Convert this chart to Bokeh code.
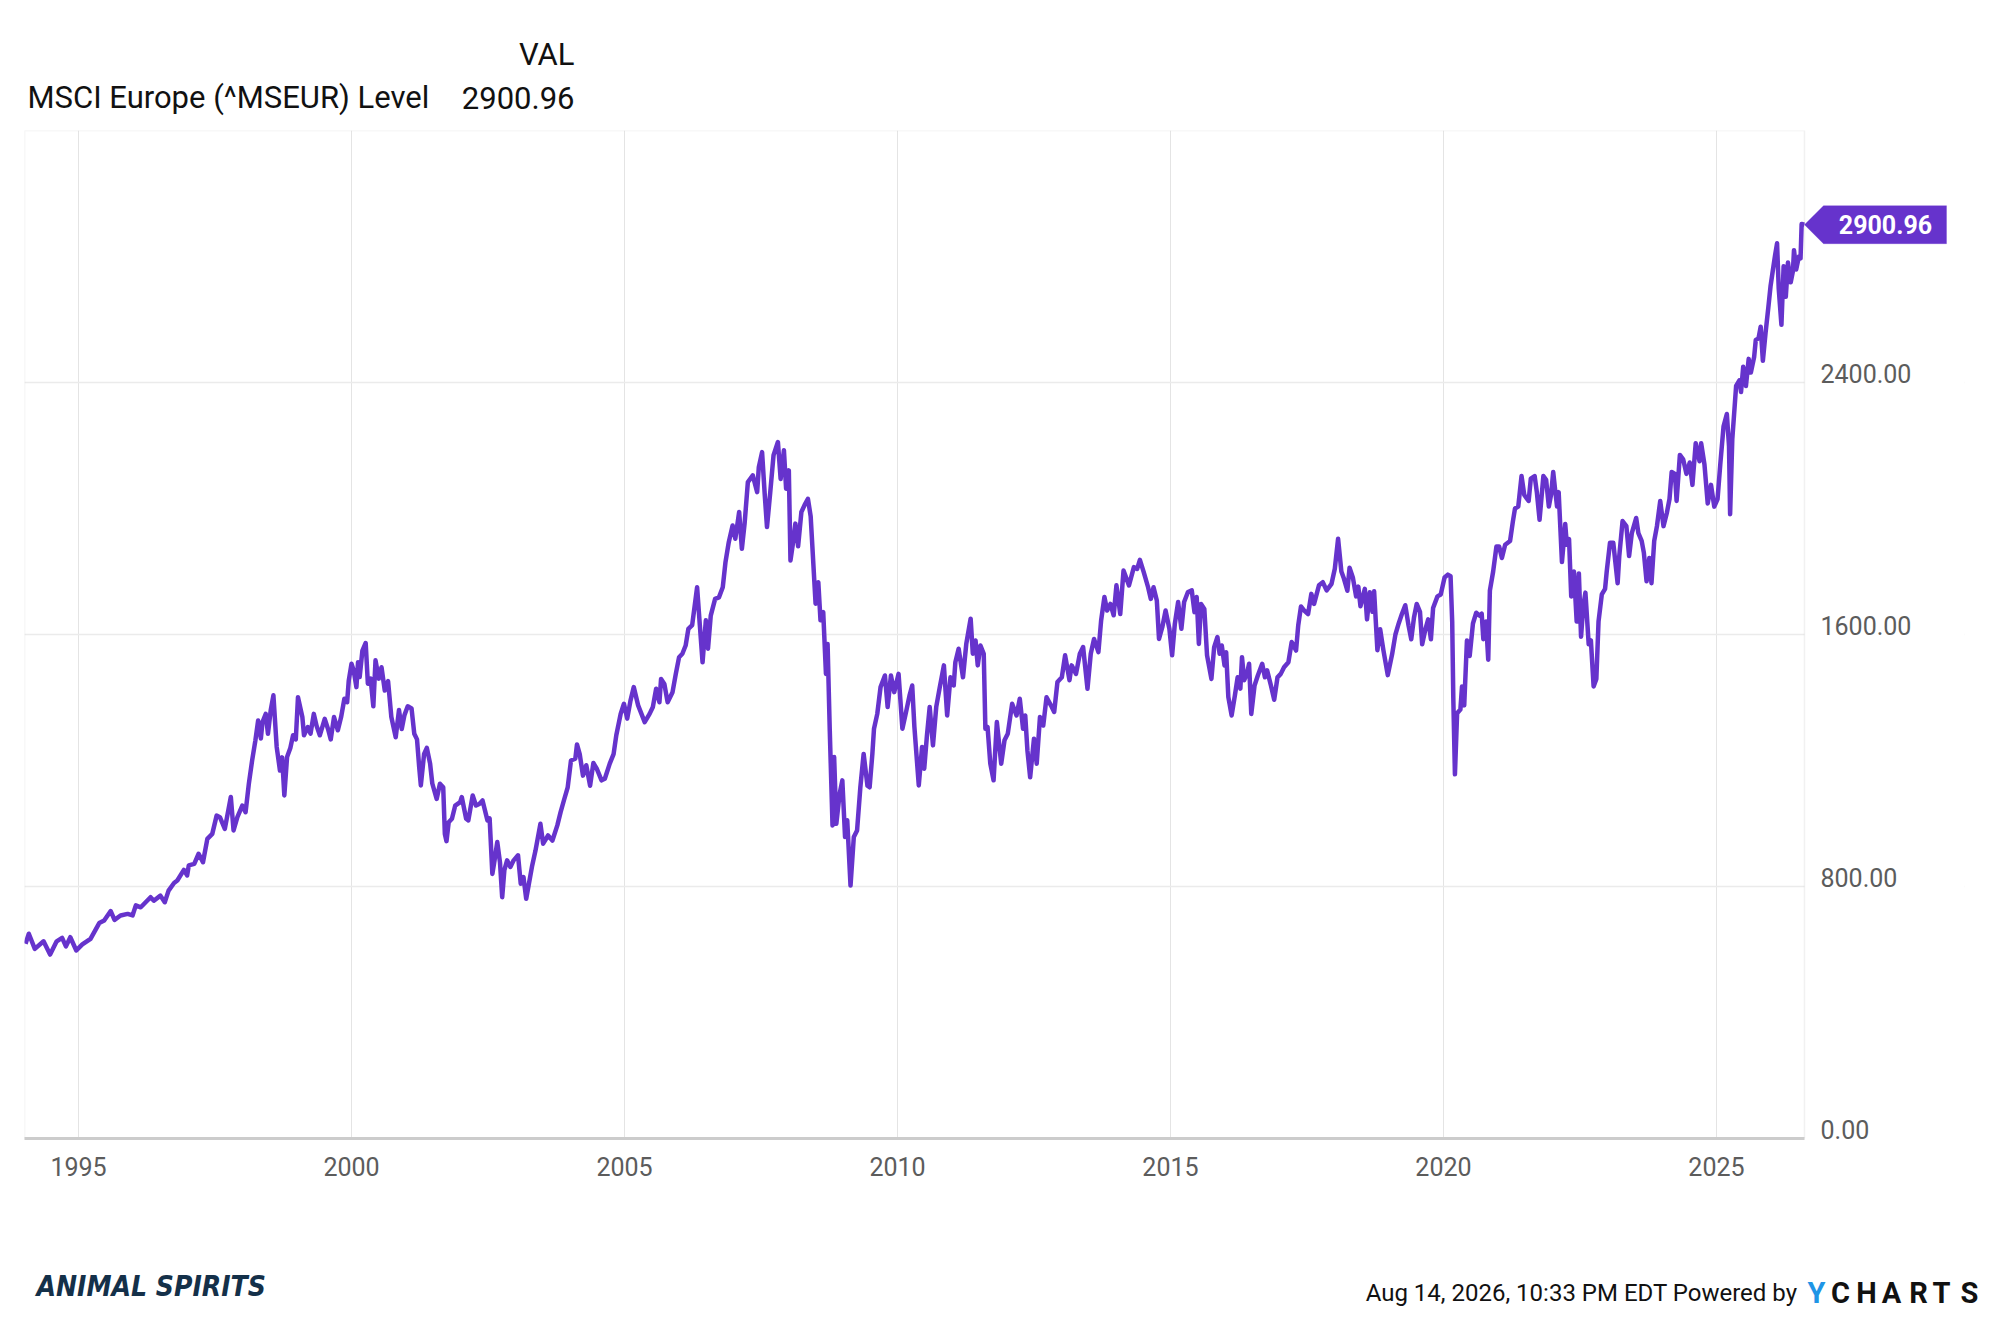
from bokeh.plotting import figure
from bokeh.layouts import column
from bokeh.models import (Range1d, FixedTicker, Label, PolyAnnotation, BoxAnnotation,
                          LinearAxis)
from bokeh.embed import file_html
from bokeh.resources import INLINE

# ---- data ----
dates = [
1994.03,1994.09,1994.2,1994.36,1994.48,1994.6,1994.7,1994.77,1994.85,1994.96,
1995.07,1995.22,1995.38,1995.47,1995.59,1995.66,1995.77,1995.9,1995.99,
1996.05,1996.14,1996.23,1996.32,1996.38,1996.5,1996.58,1996.65,1996.75,1996.81,1996.93,1996.99,
1997.02,1997.12,1997.2,1997.28,1997.36,1997.45,1997.53,1997.59,1997.68,1997.79,1997.84,1997.91,
1998.0,1998.06,1998.12,1998.18,1998.24,1998.29,1998.34,1998.37,1998.43,1998.47,1998.52,1998.57,
1998.63,1998.69,1998.73,1998.77,1998.82,1998.88,1998.93,1998.98,
1999.02,1999.1,1999.13,1999.2,1999.25,1999.31,1999.36,1999.42,1999.51,1999.57,1999.62,1999.68,
1999.75,1999.81,1999.87,1999.92,1999.95,
2000.0,2000.04,2000.09,2000.12,2000.15,2000.2,2000.26,2000.3,2000.35,2000.4,2000.44,2000.5,
2000.55,2000.61,2000.67,2000.73,2000.81,2000.87,2000.92,2000.97,
2001.03,2001.1,2001.15,2001.2,2001.24,2001.27,2001.33,2001.38,2001.44,2001.48,2001.56,2001.62,
2001.68,2001.71,2001.74,2001.78,2001.84,2001.9,2001.99,
2002.02,2002.1,2002.14,2002.22,2002.28,2002.34,2002.4,2002.49,2002.53,2002.58,2002.62,2002.67,
2002.72,2002.76,2002.8,2002.85,2002.91,2002.97,
2003.05,2003.1,2003.15,2003.2,2003.25,2003.31,2003.37,2003.46,2003.51,2003.6,2003.68,2003.77,
2003.83,2003.89,2003.96,
2004.02,2004.1,2004.13,2004.18,2004.24,2004.3,2004.37,2004.43,2004.49,2004.58,2004.64,2004.73,
2004.8,2004.85,2004.93,2004.99,
2005.05,2005.11,2005.17,2005.25,2005.37,2005.46,2005.52,2005.58,2005.64,2005.67,2005.73,2005.79,
2005.88,2005.94,
2006.0,2006.06,2006.12,2006.17,2006.24,2006.33,2006.38,2006.43,2006.49,2006.53,2006.58,2006.66,
2006.73,2006.8,2006.85,2006.91,2006.98,
2007.03,2007.1,2007.15,2007.2,2007.26,2007.35,2007.43,2007.46,2007.52,2007.57,2007.61,2007.67,
2007.73,2007.81,2007.86,2007.92,2007.96,
2008.01,2008.04,2008.08,2008.13,2008.18,2008.24,2008.31,2008.36,2008.41,2008.44,2008.5,2008.55,
2008.59,2008.64,2008.69,2008.72,2008.76,2008.81,2008.84,2008.88,2008.94,2008.99,
2009.04,2009.08,2009.14,2009.2,2009.26,2009.32,2009.38,2009.45,2009.49,2009.54,2009.57,2009.63,
2009.69,2009.77,2009.82,2009.88,2009.94,
2010.02,2010.09,2010.15,2010.22,2010.27,2010.31,2010.39,2010.45,2010.49,2010.54,2010.59,2010.65,
2010.71,2010.77,2010.85,2010.91,2010.97,
2011.03,2011.06,2011.12,2011.2,2011.26,2011.34,2011.38,2011.43,2011.47,2011.52,2011.58,2011.61,
2011.65,2011.7,2011.76,2011.82,2011.9,2011.96,
2012.02,2012.1,2012.18,2012.24,2012.3,2012.34,2012.38,2012.43,2012.5,2012.55,2012.61,2012.67,
2012.73,2012.81,2012.87,2012.93,
2013.01,2013.07,2013.15,2013.19,2013.27,2013.34,2013.4,2013.48,2013.54,2013.6,2013.68,2013.73,
2013.79,2013.84,2013.9,2013.96,
2014.01,2014.08,2014.14,2014.24,2014.33,2014.39,2014.44,2014.51,2014.59,2014.64,2014.69,2014.75,
2014.79,2014.85,2014.91,2014.98,
2015.03,2015.08,2015.14,2015.2,2015.25,2015.32,2015.39,2015.44,2015.48,2015.52,2015.56,2015.62,
2015.67,2015.75,2015.8,2015.86,2015.9,2015.94,2015.99,
2016.02,2016.06,2016.12,2016.18,2016.23,2016.28,2016.31,2016.35,2016.4,2016.44,2016.48,2016.54,
2016.6,2016.68,2016.73,2016.77,2016.84,2016.9,2016.96,
2017.02,2017.08,2017.16,2017.22,2017.3,2017.34,2017.39,2017.45,2017.52,2017.58,2017.63,2017.72,
2017.79,2017.86,2017.95,
2018.01,2018.07,2018.13,2018.17,2018.24,2018.28,2018.34,2018.4,2018.44,2018.48,2018.56,2018.6,
2018.65,2018.7,2018.73,2018.79,2018.84,2018.9,2018.98,
2019.06,2019.12,2019.18,2019.24,2019.3,2019.36,2019.41,2019.46,2019.51,2019.57,2019.61,2019.67,
2019.72,2019.77,2019.81,2019.89,2019.95,
2020.02,2020.08,2020.13,2020.16,2020.18,2020.21,2020.25,2020.31,2020.34,2020.38,2020.43,2020.48,
2020.54,2020.6,2020.66,2020.7,2020.73,2020.78,2020.82,2020.85,2020.91,2020.97,
2021.02,2021.07,2021.13,2021.22,2021.27,2021.31,2021.37,2021.43,2021.48,2021.56,2021.6,2021.67,
2021.71,2021.76,2021.83,2021.88,2021.93,2021.97,
2022.01,2022.05,2022.08,2022.11,2022.17,2022.23,2022.26,2022.3,2022.34,2022.39,2022.44,2022.48,
2022.52,2022.56,2022.6,2022.66,2022.7,2022.75,2022.8,2022.84,2022.9,2022.96,2022.99,
2023.05,2023.11,2023.19,2023.22,2023.28,2023.35,2023.4,2023.45,2023.53,2023.57,2023.63,2023.67,
2023.72,2023.77,2023.81,2023.86,2023.91,2023.97,
2024.03,2024.09,2024.14,2024.18,2024.24,2024.27,2024.33,2024.39,2024.45,2024.51,2024.56,2024.62,
2024.69,2024.72,2024.78,2024.84,2024.9,2024.96,
2025.02,2025.07,2025.13,2025.19,2025.23,2025.25,2025.29,2025.33,2025.36,2025.42,2025.45,2025.49,
2025.54,2025.59,2025.63,2025.69,2025.72,2025.77,2025.81,2025.85,2025.9,2025.95,2025.99,
2026.03,2026.07,2026.11,2026.14,2026.19,2026.23,2026.27,2026.31,2026.36,2026.4,2026.42,2026.46,
2026.51,2026.54,2026.56,2026.61]

levels = [
618,650,602,626,584,626,637,610,639,597,
616,634,684,692,722,694,708,713,708,
740,734,750,766,755,771,750,787,811,819,853,835,
867,872,904,877,951,967,1025,1020,983,1084,978,1020,
1057,1036,1126,1200,1264,1327,1270,1322,1348,1285,1359,1407,
1243,1168,1210,1089,1211,1240,1280,1267,
1401,1338,1280,1306,1285,1348,1310,1280,1332,1300,1267,1338,
1296,1338,1396,1385,1454,
1507,1486,1433,1512,1465,1549,1573,1444,1460,1372,1518,1460,
1496,1422,1452,1338,1274,1360,1300,1344,
1372,1365,1285,1267,1179,1121,1221,1240,1190,1127,1078,1126,
1115,967,944,1004,1015,1057,1068,
1084,1015,1010,1089,1057,1062,1073,1010,1016,840,883,941,
876,766,852,883,862,883,
899,809,830,761,809,867,914,999,936,962,946,994,
1036,1073,1115,
1200,1206,1251,1220,1152,1185,1120,1192,1175,1137,1142,1190,
1220,1280,1348,1380,
1333,1390,1433,1375,1322,1348,1370,1428,1385,1459,1443,1385,
1417,1475,
1528,1539,1565,1618,1630,1750,1630,1512,1645,1555,1660,1713,
1718,1750,1830,1893,1946,
1904,1989,1872,1952,2084,2105,2052,2131,2179,2041,1941,2052,
2169,2211,2094,2185,2063,
2121,1835,1883,1952,1880,1989,2015,2031,1975,1883,1698,1766,
1645,1671,1475,1570,1295,994,1211,999,1094,1137,
957,1010,803,957,978,1115,1221,1120,1115,1221,1301,1348,
1433,1470,1370,1470,1417,
1475,1301,1348,1406,1438,1306,1121,1243,1174,1280,1370,1248,
1370,1428,1502,1343,1464,
1438,1512,1555,1464,1570,1650,1539,1581,1502,1565,1539,1301,
1306,1190,1137,1322,1190,1264,
1285,1380,1343,1396,1301,1343,1232,1147,1269,1190,1338,1311,
1401,1375,1354,1449,
1464,1534,1455,1502,1475,1539,1560,1428,1539,1586,1544,1645,
1719,1676,1697,1661,
1756,1665,1803,1756,1814,1808,1837,1798,1750,1713,1750,1708,
1586,1623,1676,1618,
1534,1634,1703,1618,1703,1735,1740,1671,1719,1570,1697,1681,
1534,1459,1560,1592,1539,1565,1502,
1544,1401,1343,1407,1464,1428,1528,1455,1475,1507,1348,1438,
1470,1507,1464,1486,1438,1393,1464,
1475,1496,1512,1576,1549,1629,1689,1676,1665,1729,1697,1756,
1766,1740,1761,
1809,1904,1800,1781,1739,1812,1781,1721,1752,1690,1745,1648,
1734,1672,1737,1550,1617,1550,1471,
1538,1600,1635,1666,1693,1629,1585,1654,1697,1672,1569,1617,
1648,1585,1684,1721,1727,
1781,1790,1785,1641,1399,1156,1350,1362,1435,1375,1581,1532,
1635,1669,1660,1666,1585,1641,1520,1739,1800,1879,
1879,1843,1885,1897,1957,2000,2006,2103,2043,2024,2095,2103,
2052,1964,2103,2091,2006,2043,
2116,2052,2006,2052,1830,1951,1885,1903,1721,1800,1641,1794,
1593,1690,1733,1569,1581,1435,1459,1641,1727,1745,1800,
1891,1891,1763,1849,1960,1944,1849,1922,1970,1922,1897,1860,
1769,1843,1763,1897,1944,2024,
1944,1985,2030,2116,2110,2024,2170,2156,2110,2146,2075,2207,
2150,2207,2140,2016,2075,2006,
2030,2140,2261,2300,2198,1982,2220,2316,2389,2407,2370,2450,
2389,2475,2432,2481,2535,2540,2577,2469,2559,2638,2705,
2753,2800,2842,2699,2583,2769,2672,2781,2718,2753,2820,2759,
2800,2794,2903,2900.96]

year_ticks = [1995, 2000, 2005, 2010, 2015, 2020, 2025]
level_ticks = [0, 800, 1600, 2400]
series_name = "MSCI Europe (^MSEUR) Level"
col_header = "VAL"
footer_text = "Aug 14, 2026, 10:33 PM EDT Powered by"

# ---- styling ----
PURPLE = "#6633cc"
FONT = "Roboto"
W = 1984
H_HEAD, H_MAIN, H_FOOT = 118, 1080, 110
PX_PER_YEAR = 54.59
X0, X1 = 1994.011, 2026.612          # visible plot area
EXTRA_PX = 160                        # room to the right of the plot area for the value tag
X_END = X1 + EXTRA_PX / PX_PER_YEAR
Y0, Y1 = 0, 3200
UNITS_PER_PX = (Y1 - Y0) / 1008
LABEL_LIFT = 9.5 * UNITS_PER_PX       # value labels sit slightly above their grid lines


def text_fig(height):
    f = figure(width=W, height=height, output_backend="svg", toolbar_location=None,
               x_range=Range1d(0, W), y_range=Range1d(0, height),
               x_axis_type=None, y_axis_type=None,
               min_border=0, min_border_left=0, min_border_right=0,
               min_border_top=0, min_border_bottom=0, frame_align=False,
               background_fill_color="white", border_fill_color="white")
    f.outline_line_color = None
    f.grid.visible = False
    return f


def lab(f, x, y, text, size, color="#111111", align="left", style="normal", font=FONT):
    px = float(size.replace("px", ""))
    f.add_layout(Label(x=x, y=y + 0.32 * px, text=text, text_align=align,
                       text_baseline="alphabetic",
                       text_font=font, text_font_style=style, text_font_size=size,
                       text_color=color))


# ---- header (y measured upward from the header's bottom edge) ----
head = text_fig(H_HEAD)
lab(head, 574, H_HEAD - 64, col_header, "31px", align="right")
lab(head, 27, H_HEAD - 107, series_name, "31px")
lab(head, 574, H_HEAD - 107, f"{levels[-1]:.2f}", "31px", align="right")

# ---- main chart ----
p = figure(frame_width=1780 + EXTRA_PX, frame_height=1008, output_backend="svg",
           toolbar_location=None, frame_align=False,
           x_range=Range1d(X0, X_END), y_range=Range1d(Y0, Y1),
           y_axis_location=None,
           min_border_left=24, min_border_right=W - 24 - 1780 - EXTRA_PX,
           min_border_top=12, min_border_bottom=H_MAIN - 12 - 1008,
           background_fill_color="white", border_fill_color="white")
p.outline_line_color = None
p.extra_y_ranges = {"labels": Range1d(Y0 - LABEL_LIFT, Y1 - LABEL_LIFT)}

p.xgrid.ticker = FixedTicker(ticks=year_ticks)
p.xgrid.grid_line_color = "#e4e4e4"
p.xgrid.grid_line_width = 1
p.ygrid.ticker = FixedTicker(ticks=level_ticks)
p.ygrid.grid_line_color = "#ebebeb"
p.ygrid.grid_line_width = 1.5

# white cover right of plot area (hides grid there) and plot area border
p.add_layout(BoxAnnotation(left=X1, fill_color="white", fill_alpha=1.0,
                           line_color=None, level="underlay"))
p.add_layout(BoxAnnotation(left=X0, right=X1, bottom=Y0, top=Y1, fill_alpha=0.0,
                           line_color="#d2d2d2", line_width=1.5, level="underlay"))

p.line(dates, levels, line_color=PURPLE, line_width=4.5, line_join="round")

xa = p.xaxis[0]
xa.ticker = FixedTicker(ticks=year_ticks)
xa.major_label_overrides = {y: str(y) for y in year_ticks}
xa.bounds = (X0, X1)
xa.axis_line_color = "#cccccc"
xa.axis_line_width = 3
xa.major_tick_line_color = None
xa.minor_tick_line_color = None
xa.major_tick_out = 0
xa.major_label_standoff = 18
xa.major_label_text_font = FONT
xa.major_label_text_font_size = "25px"
xa.major_label_text_color = "#5c5c5c"

ya = LinearAxis(y_range_name="labels", ticker=FixedTicker(ticks=level_ticks))
ya.major_label_overrides = {t: f"{t:.2f}" for t in level_ticks}
ya.axis_line_color = None
ya.major_tick_line_color = None
ya.minor_tick_line_color = None
ya.major_tick_out = 0
ya.major_label_standoff = 1820 - (1804 + EXTRA_PX)
ya.major_label_text_font = FONT
ya.major_label_text_font_size = "25px"
ya.major_label_text_color = "#5c5c5c"
p.add_layout(ya, "right")

# last value tag
last_y = levels[-1]
hh = 19 * UNITS_PER_PX
tag = PolyAnnotation(xs=[X1, X1 + 19 / PX_PER_YEAR, X1 + 142 / PX_PER_YEAR,
                         X1 + 142 / PX_PER_YEAR, X1 + 19 / PX_PER_YEAR],
                     ys=[last_y, last_y + hh, last_y + hh, last_y - hh, last_y - hh],
                     fill_color=PURPLE, fill_alpha=1.0, line_color=PURPLE, line_width=1)
p.add_layout(tag)
p.add_layout(Label(x=X1 + 81 / PX_PER_YEAR, y=last_y, text=f"{last_y:.2f}",
                   text_align="center", text_baseline="middle",
                   text_font=FONT, text_font_style="bold",
                   text_font_size="25px", text_color="white"))

# ---- footer (y measured upward from the footer's bottom edge) ----
foot = text_fig(H_FOOT)
BOTTOM = H_HEAD + H_MAIN + H_FOOT
lab(foot, 36, BOTTOM - 1295, "ANIMAL SPIRITS", "28px", color="#143049",
    style="bold italic", font="DejaVu Sans Condensed")
lab(foot, 1797, BOTTOM - 1300, footer_text, "24px", align="right")
logo_letters = ["Y", "C", "H", "A", "R", "T", "S"]
logo_centers = [1816, 1840, 1866, 1891, 1918, 1941, 1969]
for ch, cx in zip(logo_letters, logo_centers):
    lab(foot, cx, BOTTOM - 1302, ch, "29px",
        color="#1f95e6" if ch == "Y" else "#111111", align="center", style="bold")

layout = column(head, p, foot, spacing=0)
open("out.html", "w").write(file_html(layout, INLINE))
